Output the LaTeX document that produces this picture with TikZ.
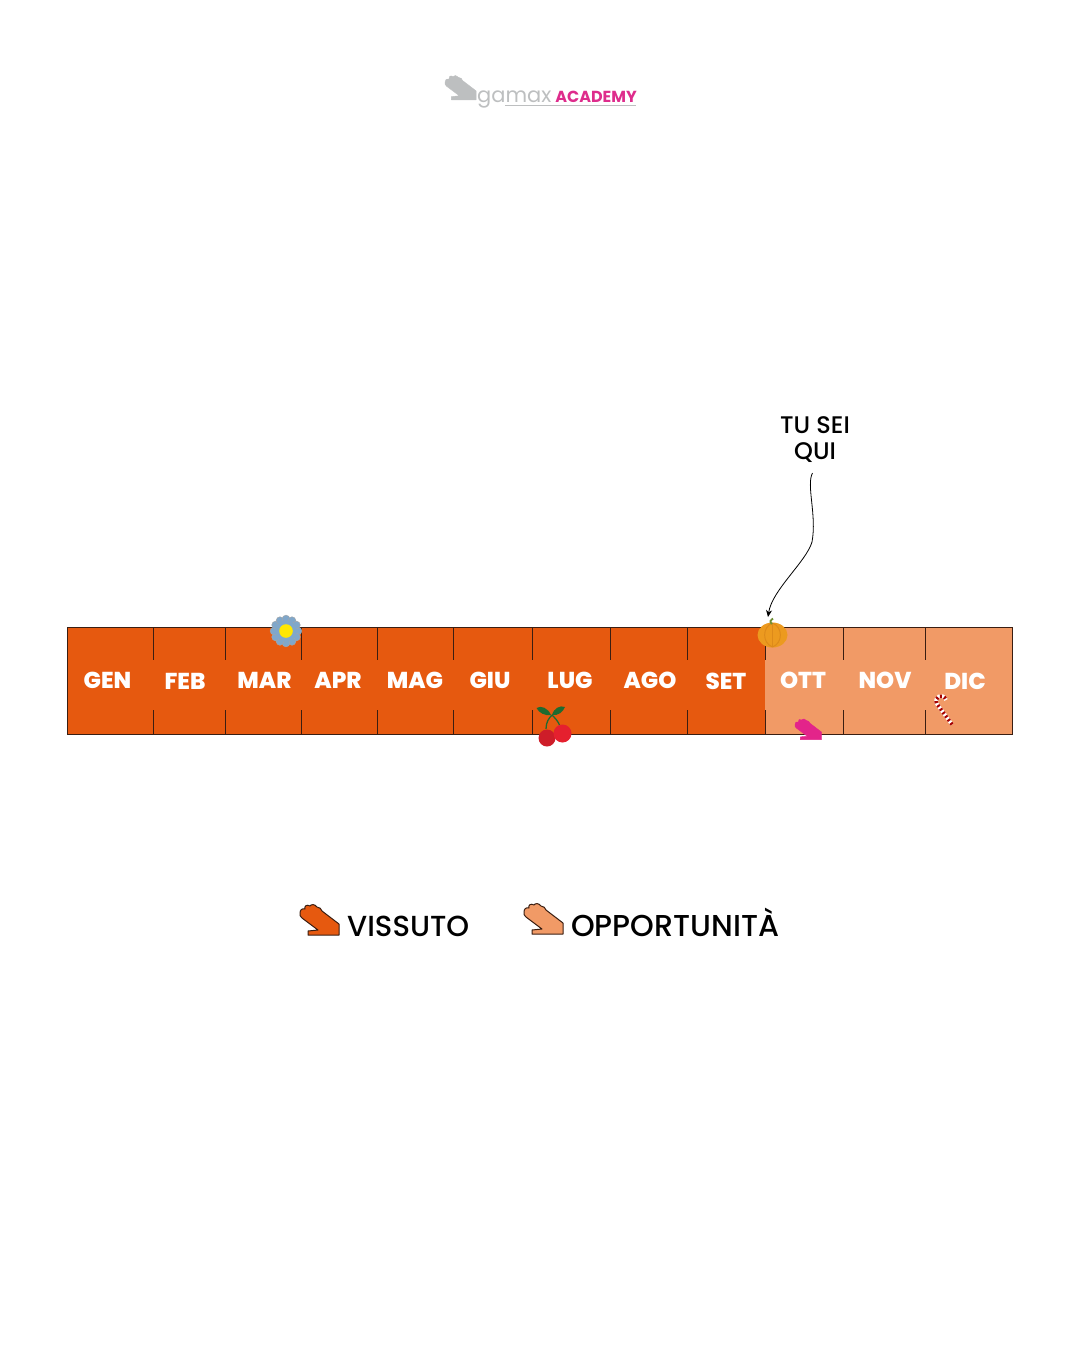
\documentclass[tikz,border=0pt]{standalone}
\usepackage{fontspec}
\setmainfont{Poppins}
\newfontfamily\medfont{Poppins Medium}
\newfontfamily\heavyfont{Poppins ExtraBold}
\usetikzlibrary{arrows.meta}
\definecolor{vissuto}{HTML}{E6590F}
\definecolor{opportunita}{HTML}{F19A66}
\definecolor{barline}{HTML}{3A1E12}
\definecolor{logopink}{HTML}{DE2C8C}
\definecolor{logogray}{HTML}{BDBFC0}
\definecolor{handpink}{HTML}{E3248A}
\definecolor{petal}{HTML}{80A7CA}
\definecolor{pumpkin}{HTML}{EC9A1F}
\definecolor{pumpkindark}{HTML}{DD8A1A}
\definecolor{stem}{HTML}{6F8F35}
\definecolor{leaf}{HTML}{1F6B30}
\definecolor{cherry}{HTML}{E5202E}
\tikzset{
	month/.style={text=white,font=\heavyfont\fontsize{23}{23}\selectfont,inner sep=0pt},
	tick/.style={barline,line width=.8pt},
	callout/.style={font=\medfont\fontsize{24}{26}\selectfont,align=center,inner sep=0pt},
	legendtext/.style={font=\medfont\fontsize{#1}{30}\selectfont,anchor=base west,inner sep=0pt},
	pics/hand/.style={code={
		\path[pic actions,line join=round] (0,9) .. controls (0,6) and (2,4) .. (5,5) .. controls (4,2) and (7,0) .. (10,2) .. controls (11,0) and (15,0) .. (17,3) .. controls (20,3) and (21,5) .. (22,7) -- (39,20) -- (39,31) -- (8,31) -- (8,27) -- (18,26) -- (2,14) .. controls (0,13) and (0,11) .. cycle;
	}}
}
\begin{document}
\begin{tikzpicture}[x=1pt,y=-1pt]
	\useasboundingbox (0,0) rectangle (1080,1350);
	% the logo
	\pic[fill=logogray,draw=logogray,scale=.8] at (445,75) {hand};
	\node[text=logogray,font=\fontsize{21}{21}\selectfont,inner sep=0pt,anchor=base west] (gamax) at (477,102) {gamax};
	\node[text=logopink,font=\bfseries\fontsize{16}{16}\selectfont,inner sep=0pt,anchor=base east] (academy) at (637,102.5) {ACADEMY};
	\draw[logogray,line width=.7pt] (505,105.5) -- (636,105.5);
	% the bar
	\fill[vissuto] (67,628) rectangle (765,734);
	\fill[opportunita] (765,628) rectangle (1012.5,734);
	\draw[barline,line width=.9pt] (67,627.5) rectangle (1012.5,734);
	\foreach \xtick in {153.5,225.5,301.5,377.5,453.5,532,610,687,765,843,925} {
		\draw[tick] (\xtick,628) -- (\xtick,660);
		\draw[tick] (\xtick,710) -- (\xtick,734);
	}
	% months
	\foreach \xpos/\ypos/\mese in {107.5/680/GEN,185/681/FEB,264.5/680/MAR,338/680/APR,415/680/MAG,490/680/GIU,570/680/LUG,650/680/AGO,726/681/SET,803/680/OTT,885/680/NOV,965/681/DIC} {
		\node[month] (\mese) at (\xpos,\ypos) {\mese};
	}
	% the flower
	\foreach \ang in {0,30,...,330} {
		\fill[petal,draw=gray!70,line width=.4pt] (286,631) ++(\ang:12) circle (3.9);
	}
	\fill[petal] (286,631) circle (10.5);
	\fill[yellow!90!orange] (286,631) circle (6.8);
	% the cherries
	\draw[leaf,line width=1.3pt] (546,729) .. controls (546,722) and (549,718) .. (552,715);
	\draw[leaf,line width=1.3pt] (560,726) .. controls (558,721) and (555,718) .. (552,715);
	\fill[leaf] (536.5,708) .. controls (541,705) and (548,708) .. (551,715) .. controls (545,716) and (539,713) .. cycle;
	\fill[leaf] (565,707) .. controls (560,705) and (554,708) .. (552,715) .. controls (558,716) and (563,712) .. cycle;
	\fill[cherry!90!black] (547,738) circle (8.5);
	\fill[cherry] (562.5,733.5) circle (9);
	% the pumpkin
	\fill[pumpkin] (772.5,635) ellipse (15 and 12.5);
	\draw[pumpkindark,line width=1pt] (772.5,623) .. controls (762,627) and (762,643) .. (772.5,647);
	\draw[pumpkindark,line width=1pt] (772.5,623) .. controls (783,627) and (783,643) .. (772.5,647);
	\draw[pumpkindark,line width=1pt] (772.5,623) -- (772.5,647);
	\draw[stem,line width=1.8pt] (772,624) .. controls (769,622) and (771,619) .. (773,618.5);
	% the pink hand and the candy cane
	\pic[fill=handpink,draw=handpink,scale=.68] at (795,718.5) {hand};
	\draw[white,line width=3.6pt] (952,724.5) -- (937,704) .. controls (933,697) and (943,692) .. (946,700);
	\draw[red!65!black,line width=3.6pt,dash pattern=on 2pt off 2.4pt] (952,724.5) -- (937,704) .. controls (933,697) and (943,692) .. (946,700);
	% you are here
	\node[callout] (tusei) at (815,440) {TU SEI\\QUI};
	\coordinate (arrowstart) at (812.5,473);
	\coordinate (arrowend) at (768,617);
	\draw[-{Stealth[length=7pt,width=6pt]},black,line width=.8pt] (arrowstart) .. controls (806,485) and (817,515) .. (812,542) .. controls (806,562) and (772,590) .. (arrowend);
	% the legend
	\pic[fill=vissuto,draw=barline,line width=1pt] at (300,904) {hand};
	\node[legendtext=29] (vissutolabel) at (347,936) {VISSUTO};
	\pic[fill=opportunita,draw=barline,line width=1pt] at (524,903) {hand};
	\node[legendtext=30.2] (opportunitalabel) at (571,936) {OPPORTUNIT\`A};
\end{tikzpicture}
\end{document}
